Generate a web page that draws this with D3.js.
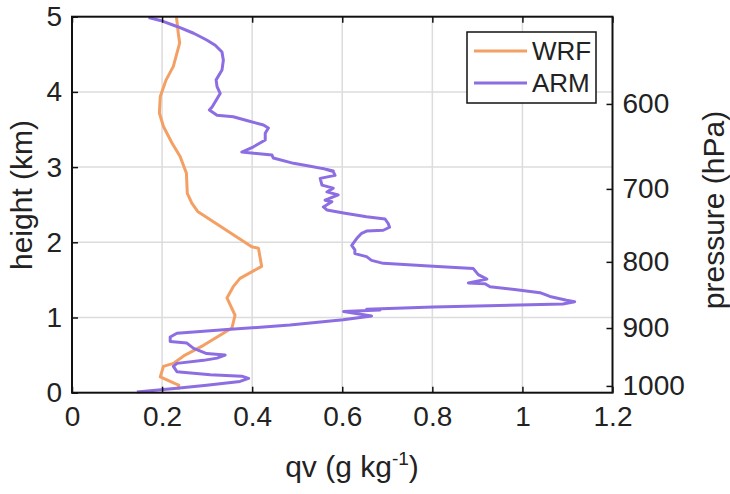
<!DOCTYPE html>
<html>
<head>
<meta charset="utf-8">
<script src="https://cdn.jsdelivr.net/npm/d3@7"></script>
<style>
body { margin:0; background:#fff; }
text { font-family: "Liberation Sans", Arial, sans-serif; fill:#222; }
</style>
</head>
<body>
<script>
// WRF profile: qv (g/kg) vs height (km)
var wrfQv = [0.232,0.236,0.239,0.225,0.209,0.196,0.194,0.203,0.222,0.240,0.254,0.256,0.266,0.279,0.399,0.414,0.421,0.373,0.358,0.344,0.362,0.355,0.336,0.292,0.251,0.225,0.203,0.196,0.229,0.237,0.236];
var wrfZ  = [4.99,4.78,4.65,4.34,4.16,3.94,3.72,3.54,3.32,3.14,2.92,2.65,2.52,2.41,1.94,1.92,1.68,1.52,1.41,1.26,1.03,0.86,0.79,0.63,0.50,0.39,0.35,0.21,0.12,0.10,0.04];

// ARM sounding
var armQv = [0.170,0.196,0.233,0.270,0.299,0.318,0.333,0.336,0.333,0.320,0.322,0.329,0.320,0.311,0.305,0.322,0.358,0.388,0.425,0.436,0.429,0.429,0.403,0.377,0.410,0.444,0.447,0.492,0.529,0.566,0.580,
  0.558,0.580,0.584,0.551,0.555,0.580,0.566,0.591,0.562,0.577,0.558,0.566,0.603,0.654,0.695,0.702,0.705,0.691,0.654,0.643,0.632,0.621,0.628,0.628,0.654,0.665,0.691,0.802,0.891,0.902,0.921,0.880,0.917,0.928,0.987,1.039,1.061,1.098,1.116,1.090,0.802,0.654,0.684,0.603,0.665,0.602,0.484,0.418,0.344,0.233,0.218,0.218,0.255,0.270,0.299,0.340,0.322,0.292,0.233,0.225,0.233,0.307,0.377,0.392,0.373,0.299,0.233,0.144];
var armZ  = [4.99,4.95,4.87,4.78,4.69,4.62,4.53,4.42,4.29,4.16,4.07,3.98,3.89,3.80,3.76,3.69,3.67,3.62,3.56,3.52,3.45,3.36,3.27,3.20,3.18,3.16,3.12,3.05,3.01,2.97,2.95,
  2.98,2.94,2.89,2.85,2.76,2.72,2.67,2.63,2.56,2.54,2.47,2.43,2.39,2.34,2.31,2.25,2.20,2.16,2.15,2.12,2.05,1.96,1.90,1.85,1.81,1.76,1.72,1.68,1.65,1.57,1.51,1.46,1.45,1.41,1.37,1.33,1.28,1.23,1.21,1.18,1.14,1.11,1.10,1.08,1.02,0.97,0.90,0.87,0.84,0.79,0.74,0.68,0.66,0.59,0.52,0.50,0.46,0.43,0.39,0.35,0.28,0.24,0.22,0.19,0.15,0.10,0.06,0.01];

var xTicks = [0,0.2,0.4,0.6,0.8,1,1.2];
var xTickLabels = ["0","0.2","0.4","0.6","0.8","1","1.2"];
var yTicks = [0,1,2,3,4,5];
var yTickLabels = ["0","1","2","3","4","5"];
// right axis: pressure levels and the heights they sit at
var pressureTicks = [600,700,800,900,1000];
var pressureLabels = ["600","700","800","900","1000"];
var pressureZ = [3.84,2.71,1.74,0.86,0.09];

var seriesNames = ["WRF","ARM"];
var seriesColors = ["#f4a064","#8d6ee2"];

var W = 730, H = 494;
var L = 72, R = 612.5, T = 16.7, B = 392.7;

var svg = d3.select("body").append("svg").attr("width",W).attr("height",H);

var x = d3.scaleLinear().domain([0,1.2]).range([L,R]);
var y = d3.scaleLinear().domain([0,5]).range([B,T]);
var p = d3.scaleLinear().domain(pressureTicks).range(pressureZ.map(y));

// grid
svg.append("g").selectAll("line").data(xTicks.slice(1,-1)).enter().append("line")
  .attr("x1",d=>x(d)).attr("x2",d=>x(d)).attr("y1",T).attr("y2",B)
  .attr("stroke","#dcdcdc").attr("stroke-width",1.5);
svg.append("g").selectAll("line").data(yTicks.slice(1,-1)).enter().append("line")
  .attr("y1",d=>y(d)).attr("y2",d=>y(d)).attr("x1",L).attr("x2",R)
  .attr("stroke","#dcdcdc").attr("stroke-width",1.5);

// lines
var line = d3.line().x(d=>x(d[0])).y(d=>y(d[1]));
svg.append("path").datum(d3.zip(wrfQv,wrfZ)).attr("d",line)
  .attr("fill","none").attr("stroke",seriesColors[0]).attr("stroke-width",3).attr("stroke-linejoin","round");
svg.append("path").datum(d3.zip(armQv,armZ)).attr("d",line)
  .attr("fill","none").attr("stroke",seriesColors[1]).attr("stroke-width",3).attr("stroke-linejoin","round");

// axes
var fs = "28px";
var gb = svg.append("g").attr("transform","translate(0,"+B+")")
  .call(d3.axisBottom(x).tickValues(xTicks).tickFormat((d,i)=>xTickLabels[i]).tickSizeInner(-6).tickSizeOuter(0).tickPadding(12));
var gt = svg.append("g").attr("transform","translate(0,"+T+")")
  .call(d3.axisTop(x).tickValues(xTicks).tickFormat("").tickSizeInner(-6).tickSizeOuter(0));
var gl = svg.append("g").attr("transform","translate("+L+",0)")
  .call(d3.axisLeft(y).tickValues(yTicks).tickFormat((d,i)=>yTickLabels[i]).tickSizeInner(-6).tickSizeOuter(0).tickPadding(10));
var gr = svg.append("g").attr("transform","translate("+R+",0)")
  .call(d3.axisRight(p).tickValues(pressureTicks).tickFormat((d,i)=>pressureLabels[i]).tickSizeInner(-6).tickSizeOuter(0).tickPadding(10));
[gb,gt,gl,gr].forEach(function(g){
  g.select(".domain").remove();
  g.selectAll(".tick line").attr("stroke","#111").attr("stroke-width",1.5);
  g.selectAll("text").attr("font-size",fs).attr("font-family","Liberation Sans, Arial, sans-serif").attr("fill","#222");
});
gb.selectAll("text").attr("dy","0.75em");

svg.append("rect").attr("x",L).attr("y",T).attr("width",R-L).attr("height",B-T)
  .attr("fill","none").attr("stroke","#111").attr("stroke-width",2);

// titles
svg.append("text").attr("transform","translate(32,195) rotate(-90)")
  .attr("text-anchor","middle").attr("font-size","30px").text("height (km)");
svg.append("text").attr("transform","translate(724,210) rotate(-90)")
  .attr("text-anchor","middle").attr("font-size","30px").text("pressure (hPa)");
var xt = svg.append("text").attr("x",352).attr("y",477).attr("text-anchor","middle").attr("font-size","30px");
xt.append("tspan").text("qv (g kg");
xt.append("tspan").attr("font-size","19px").attr("dy","-12").text("-1");
xt.append("tspan").attr("dy","12").text(")");

// legend
var lg = svg.append("g");
lg.append("rect").attr("x",467).attr("y",32).attr("width",129).attr("height",71)
  .attr("fill","#fff").attr("stroke","#111").attr("stroke-width",1.5);
seriesNames.forEach(function(n,i){
  var yy = 51 + i*32;
  lg.append("line").attr("x1",474).attr("x2",527).attr("y1",yy).attr("y2",yy)
    .attr("stroke",seriesColors[i]).attr("stroke-width",3);
  lg.append("text").attr("x",532).attr("y",yy).attr("dy","0.36em").attr("font-size","26px").text(n);
});
</script>
</body>
</html>
